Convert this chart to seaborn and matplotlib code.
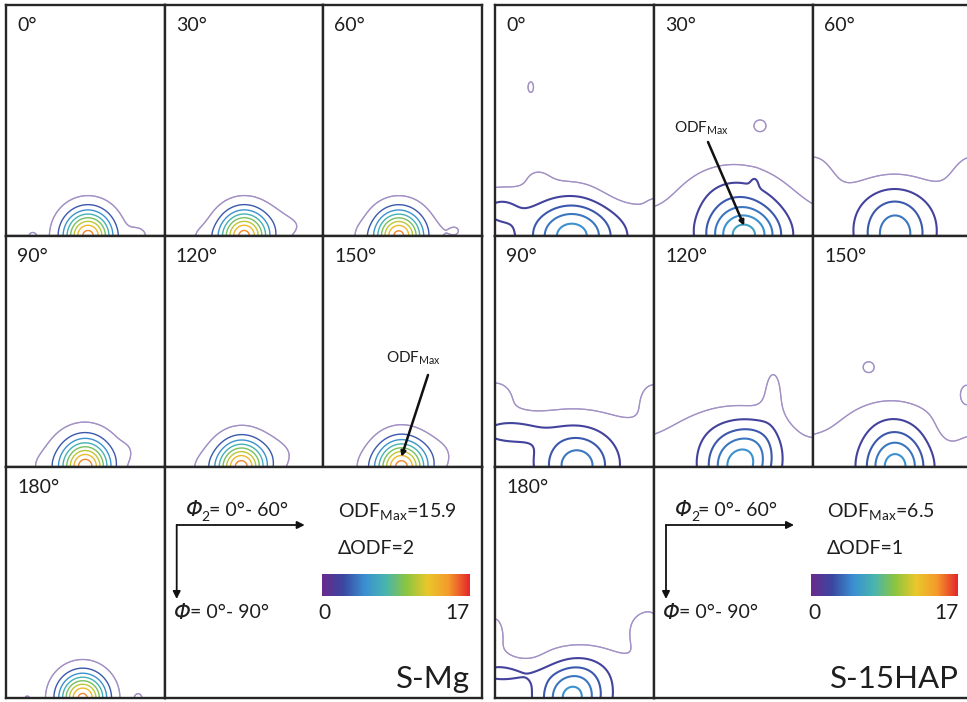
import numpy as np
import matplotlib
matplotlib.use("Agg")
import matplotlib.pyplot as plt
import seaborn as sns

# ------------------------------------------------------------------ data
SECTION_ANGLES = [0, 30, 60, 90, 120, 150, 180]      # phi1 sections
PHI2_RANGE = [0, 60]                                 # horizontal axis
PHI_RANGE = [0, 90]                                  # vertical axis (down)
ODF_SCALE = [0, 17]                                  # colour bar range
SCALE_COLOURS = ["#6a2a8e", "#3b47a0", "#3b8fd2", "#48b5b0",
                 "#8cc540", "#e9c82c", "#f59a2b", "#e3262b"]

# S-Mg : ODFmax 15.9, step 2
SMG_NAME = "S-Mg"
SMG_MAX = 15.9
SMG_STEP = 2
SMG_LEVELS = [1, 3, 5, 7, 9, 11, 13, 15]
# texture components:
# (phi2 centre, Phi centre, phi2 spread, Phi spread, intensity)
SMG_0 = [(31, 90, 6.2, 6.7, 15.8), (50, 90, 3.5, 3.5, 1.3), (10, 90, 2.0, 2.0, 1.2)]
SMG_30 = [(30, 90, 6.2, 6.7, 15.7), (14, 90, 6.0, 4.0, 0.85), (48, 86, 8.0, 6.0, 0.95)]
SMG_60 = [(28.5, 90, 6.2, 6.7, 15.7), (50, 88, 5.0, 5.0, 1.0), (14, 90, 3.0, 4.0, 0.7)]
SMG_90 = [(30, 90, 6.2, 7.0, 15.7), (28, 84, 12, 9, 0.7), (46, 84, 3, 4, 0.6),
          (14, 90, 6, 5, 0.7)]
SMG_120 = [(29, 90, 6.2, 6.9, 15.7), (16, 90, 8, 5, 0.85), (44, 85, 7, 6, 0.9)]
SMG_150 = [(29.5, 90, 6.4, 7.0, 15.9), (45, 85, 6, 6, 0.8), (16, 90, 5, 5, 0.6)]
SMG_180 = [(29, 90, 6.0, 6.4, 15.6), (50, 90, 1.8, 2.2, 1.3), (8, 90, 1.5, 1.5, 1.1)]
SMG_MAX_SECTION = 150

# S-15HAP : ODFmax 6.5, step 1
HAP_NAME = "S-15HAP"
HAP_MAX = 6.5
HAP_STEP = 1
HAP_LEVELS = [1, 2, 3, 4, 5, 6]
HAP_0 = [(30, 90, 999, 17, 1.45), (29, 90, 10.5, 9.5, 4.1), (2, 79, 6, 4.5, 1.0),
         (16, 66, 5, 4, 0.45), (48, 72, 8, 6, -0.45), (13.5, 32, 1.4, 2.8, 1.3),
         (60, 81, 2.0, 3.0, 0.6)]
HAP_30 = [(30, 90, 999, 16, 1.2), (34, 90, 9.5, 8.5, 5.1), (30, 72, 13, 9, 1.3),
          (40, 47, 2.2, 2.2, 1.6), (38, 69, 1.2, 2.2, 0.5)]
HAP_60 = [(30, 90, 999, 16, 1.2), (31, 90, 9, 11, 3.3), (30, 75, 15, 8, 0.6),
          (0, 66, 7, 10, 1.0), (60, 66, 7, 10, 1.0)]
HAP_90 = [(30, 90, 999, 18, 1.3), (31, 90, 9, 9, 3.2), (28, 76, 16, 8, 0.5),
          (5, 76, 9, 3.5, 1.3), (0, 60, 8, 7, 0.8), (60, 61, 6, 7, 0.8)]
HAP_120 = [(30, 90, 999, 17, 1.2), (32, 90, 8.5, 10, 4.2), (40, 80, 6, 7, 0.8),
           (45, 58, 3.5, 9, 0.95), (25, 74, 14, 8, 0.5), (60, 87, 2.5, 3, 0.6)]
HAP_150 = [(30, 90, 999, 17, 1.25), (31, 90, 8, 10, 4.2), (28, 70, 14, 8, 0.6),
           (21, 51, 2.0, 2.0, 1.5), (58, 60, 4, 6, 0.8), (50, 75, 4, 6, -0.3)]
HAP_180 = [(30, 90, 999, 18, 1.3), (29, 90, 8, 8.5, 4.0), (36, 79, 8, 6, 0.6),
           (0, 60, 5, 10, 0.7), (54, 62, 4, 6, 0.7), (60, 60, 4, 10, 0.6),
           (3, 80, 10, 3.5, 1.0), (11, 72, 5, 4, -0.25)]
HAP_MAX_SECTION = 30

SMG_SECTIONS = [SMG_0, SMG_30, SMG_60, SMG_90, SMG_120, SMG_150, SMG_180]
HAP_SECTIONS = [HAP_0, HAP_30, HAP_60, HAP_90, HAP_120, HAP_150, HAP_180]

# ------------------------------------------------------------------ style
sns.set_style("white")
FONT = "Lato"
plt.rcParams["font.family"] = [FONT, "DejaVu Sans"]
plt.rcParams["mathtext.fontset"] = "custom"
plt.rcParams["mathtext.rm"] = FONT
plt.rcParams["mathtext.it"] = FONT + ":italic"
plt.rcParams["mathtext.bf"] = FONT + ":bold"
plt.rcParams["mathtext.sf"] = FONT

CMAP = sns.blend_palette(SCALE_COLOURS, n_colors=256, as_cmap=True)
W, H = 967, 702
fig = plt.figure(figsize=(W / 100, H / 100), dpi=100)
fig.patch.set_facecolor("white")

EDGE = "#262626"
TXT = "#1e1e1e"
LEG_FS = 14


def px_axes(x, y, w, h, **kw):
    return fig.add_axes([x / W, 1 - (y + h) / H, w / W, h / H], **kw)


def px_text(x, y, s, **kw):
    kw.setdefault("color", TXT)
    return fig.text(x / W, 1 - y / H, s, **kw)


def odf_field(blobs):
    x = np.linspace(PHI2_RANGE[0], PHI2_RANGE[1], 241)
    y = np.linspace(PHI_RANGE[0], PHI_RANGE[1], 361)
    X, Y = np.meshgrid(x, y)
    Z = np.zeros_like(X)
    for x0, y0, sx, sy, a in blobs:
        Z += a * np.exp(-0.5 * ((X - x0) / sx) ** 2 - 0.5 * ((Y - y0) / sy) ** 2)
    return X, Y, Z


def frame(ax):
    ax.set_xticks([])
    ax.set_yticks([])
    for s in ax.spines.values():
        s.set_visible(True)
        s.set_color(EDGE)
        s.set_linewidth(1.7)


def phi_label(x, y, sub, rest):
    """Italic capital phi, optional subscript, then plain text."""
    px_text(x, y, "Φ", ha="left", va="center", fontsize=LEG_FS + 1.5,
            style="italic", family=["DejaVu Sans"])
    nx = x + 16
    if sub:
        px_text(nx, y + 7, sub, ha="left", va="center", fontsize=LEG_FS - 4)
        nx += 7
    px_text(nx, y, rest, ha="left", va="center", fontsize=LEG_FS)


def draw_panel(x0, cw, y0, rh, sections, levels, lw_main, name, odfmax, step,
               max_section, max_text_px, max_tail_px):
    cells = {}
    for i, (ang, blobs) in enumerate(zip(SECTION_ANGLES, sections)):
        r, c = divmod(i, 3)
        ax = px_axes(x0 + c * cw, y0 + r * rh, cw, rh)
        ax.set_xlim(*PHI2_RANGE)
        ax.set_ylim(PHI_RANGE[1], PHI_RANGE[0])
        frame(ax)
        X, Y, Z = odf_field(blobs)
        cols = [CMAP(l / ODF_SCALE[1]) for l in levels]
        lws = [0.9] + [lw_main] * (len(levels) - 1)
        ax.contour(X, Y, Z, levels=levels, colors=cols, linewidths=lws)
        # first level drawn lighter (mauve)
        ax.contour(X, Y, Z, levels=[levels[0]], colors=["white"],
                   linewidths=[0.9], alpha=0.45)
        ax.text(11 / cw, 1 - 12 / rh, f"{ang}°", transform=ax.transAxes,
                ha="left", va="top", fontsize=14, color=TXT)
        cells[ang] = (ax, blobs)

    # legend cell spanning two columns
    lax = px_axes(x0 + cw, y0 + 2 * rh, 2 * cw, rh)
    frame(lax)
    lx = x0 + cw
    ly = y0 + 2 * rh

    ax0 = lx + 12
    ay0 = ly + 58
    for end in [(ax0 + 128, ay0), (ax0, ay0 + 74)]:
        fig.add_artist(matplotlib.patches.FancyArrowPatch(
            (ax0, H - ay0), (end[0], H - end[1]), transform=None,
            arrowstyle="-|>", mutation_scale=11, color="#111111", lw=1.3,
            shrinkA=0, shrinkB=0))
    phi_label(lx + 21, ly + 43, "2", "= 0°- 60°")
    phi_label(lx + 9, ly + 146, "", "= 0°- 90°")
    px_text(lx + 173, ly + 44, r"ODF$_{\mathrm{Max}}$=" + f"{odfmax}",
            ha="left", va="center", fontsize=LEG_FS)
    px_text(lx + 173, ly + 82, f"ΔODF={step}",
            ha="left", va="center", fontsize=LEG_FS)
    # colour bar
    cax = px_axes(lx + 157, ly + 107, 147, 22)
    grad = np.linspace(ODF_SCALE[0], ODF_SCALE[1], 256)[None, :]
    cax.imshow(grad, aspect="auto", cmap=CMAP, extent=[0, 1, 0, 1])
    cax.set_axis_off()
    px_text(lx + 160, ly + 146, f"{ODF_SCALE[0]}",
            ha="center", va="center", fontsize=LEG_FS + 1)
    px_text(lx + 305, ly + 146, f"{ODF_SCALE[1]}",
            ha="right", va="center", fontsize=LEG_FS + 1)
    px_text(lx + 305, ly + 221, name, ha="right", va="baseline", fontsize=22.5)

    # ODF max annotation
    ax, blobs = cells[max_section]
    peak = max(blobs, key=lambda b: b[4])
    px_text(max_text_px[0], max_text_px[1], r"ODF$_{\mathrm{Max}}$",
            ha="left", va="baseline", fontsize=11)
    ax.annotate("", xy=(peak[0], peak[1] - 4), xycoords="data",
                xytext=(max_tail_px[0], H - max_tail_px[1]),
                textcoords="figure pixels",
                arrowprops=dict(arrowstyle="-|>", color="#111111", lw=1.8,
                                mutation_scale=7, shrinkA=0, shrinkB=0),
                annotation_clip=False)


draw_panel(6, 158.7, 5, 231, SMG_SECTIONS, SMG_LEVELS, 1.0, SMG_NAME,
           SMG_MAX, SMG_STEP, SMG_MAX_SECTION, (386, 363), (428, 375))
draw_panel(495, 159, 5, 231, HAP_SECTIONS, HAP_LEVELS, 1.5, HAP_NAME,
           HAP_MAX, HAP_STEP, HAP_MAX_SECTION, (674, 133), (708, 142))

fig.savefig("out.png", dpi=100, facecolor="white")
